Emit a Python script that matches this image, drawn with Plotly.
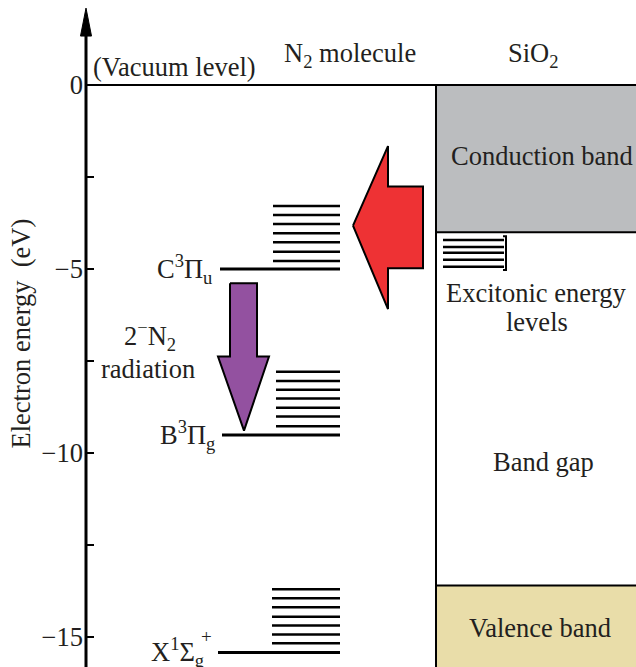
import plotly.graph_objects as go

# ---------------- data (energies in eV) ----------------
tick_vals = [0, -5, -10, -15]
tick_text = ["0", "−5", "−10", "−15"]
minor_tick_vals = [-2.5, -7.5, -12.5]

vacuum_level = 0.0
C_level = -5.0
C_vib = [-3.29, -3.53, -3.78, -4.03, -4.27, -4.53, -4.78]
B_level = -9.51
B_vib = [-7.79, -8.04, -8.28, -8.52, -8.77, -9.01, -9.27]
X_level = -15.42
X_vib = [-13.70, -13.95, -14.19, -14.45, -14.69, -14.93, -15.17]

cond_band = [0.0, -4.0]          # top, bottom of SiO2 conduction band
valence_top = -13.6              # top of SiO2 valence band
exciton_levels = [-4.21, -4.40, -4.56, -4.75, -4.94]
exciton_bracket = [-4.11, -5.03]

# arrows (energies)
red_arrow = dict(tip=-3.82, head_top=-1.66, head_bottom=-6.09, tail_top=-2.76, tail_bottom=-4.98)
purple_arrow = dict(top=-5.39, head_base=-7.38, tip=-9.39)

y_range = [-15.815, 2.31]

# ---------------- layout constants (x in page pixels) ----------------
AX_X = 86
FONT = "Liberation Serif, Times New Roman, DejaVu Serif, serif"
FS = 26.5
TXT = "#231F20"

fig = go.Figure()

def seg_trace(xs0, xs1, ys, width):
    x, y = [], []
    for v in ys:
        x += [xs0, xs1, None]
        y += [v, v, None]
    fig.add_trace(go.Scatter(x=x, y=y, mode="lines", line=dict(color="black", width=width),
                             hoverinfo="skip", showlegend=False, cliponaxis=False))

# SiO2 bands (filled)
fig.add_trace(go.Scatter(x=[436, 640, 640, 436, 436], y=[cond_band[0], cond_band[0], cond_band[1], cond_band[1], cond_band[0]],
                         fill="toself", fillcolor="#BBBDBF", line=dict(width=0), mode="lines",
                         hoverinfo="skip", showlegend=False))
fig.add_trace(go.Scatter(x=[436, 640, 640, 436, 436], y=[valence_top, valence_top, y_range[0], y_range[0], valence_top],
                         fill="toself", fillcolor="#E9DDA9", line=dict(width=0), mode="lines",
                         hoverinfo="skip", showlegend=False))
# band edges
seg_trace(436, 640, [cond_band[1], valence_top], 2)
# SiO2 left wall
fig.add_trace(go.Scatter(x=[436, 436], y=[vacuum_level, y_range[0]], mode="lines",
                         line=dict(color="black", width=2), hoverinfo="skip", showlegend=False))
# vacuum level
seg_trace(AX_X, 640, [vacuum_level], 2)

# N2 levels
seg_trace(220, 340, [C_level], 3)
seg_trace(273, 340, C_vib, 2.5)
seg_trace(222, 340, [B_level], 3)
seg_trace(276, 340, B_vib, 2.5)
seg_trace(218, 340, [X_level], 3)
seg_trace(272, 340, X_vib, 2.5)

# excitonic levels + bracket
seg_trace(443, 504, exciton_levels, 2.5)
fig.add_trace(go.Scatter(x=[503, 506, 506, 503], y=[exciton_bracket[0], exciton_bracket[0], exciton_bracket[1], exciton_bracket[1]],
                         mode="lines", line=dict(color="black", width=2), hoverinfo="skip", showlegend=False))

# red arrow (SiO2 -> N2)
ra = red_arrow
fig.add_trace(go.Scatter(
    x=[353, 388, 388, 423, 423, 388, 388, 353],
    y=[ra["tip"], ra["head_top"], ra["tail_top"], ra["tail_top"], ra["tail_bottom"], ra["tail_bottom"], ra["head_bottom"], ra["tip"]],
    fill="toself", fillcolor="#EE3234", mode="lines", line=dict(color="black", width=2),
    hoverinfo="skip", showlegend=False))

# purple arrow (radiation)
pa = purple_arrow
fig.add_trace(go.Scatter(
    x=[230, 257, 257, 269, 244, 218, 230, 230],
    y=[pa["top"], pa["top"], pa["head_base"], pa["head_base"], pa["tip"], pa["head_base"], pa["head_base"], pa["top"]],
    fill="toself", fillcolor="#9351A0", mode="lines", line=dict(color="black", width=2),
    hoverinfo="skip", showlegend=False))

# y axis line + arrowhead
fig.add_trace(go.Scatter(x=[AX_X, AX_X], y=[y_range[0], 1.4], mode="lines",
                         line=dict(color="black", width=3), hoverinfo="skip", showlegend=False))
fig.add_trace(go.Scatter(x=[80.5, 91.5, 86, 80.5], y=[1.33, 1.33, 2.09, 1.33], fill="toself",
                         fillcolor="black", mode="lines", line=dict(color="black", width=1),
                         hoverinfo="skip", showlegend=False))

def ann(text, x, y, xanchor="center", yshift=0, size=FS):
    fig.add_annotation(text=text, x=x, y=y, xref="x", yref="y", showarrow=False,
                       xanchor=xanchor, yanchor="middle", yshift=yshift,
                       font=dict(family=FONT, size=size, color=TXT))

def py(p):
    # page pixel row -> energy (for text placement)
    return (85 - p) / 36.8

ann("(Vacuum level)", 174, py(67))
ann("N<sub>2</sub> molecule", 350, py(55))
ann("SiO<sub>2</sub>", 533, py(55))
ann("Conduction band", 542, py(156))
ann("Excitonic energy", 536, py(293))
ann("levels", 537, py(322))
ann("Band gap", 543, py(462))
ann("Valence band", 540, py(628))
ann("C<sup>3</sup>Π<sub>u</sub>", 214, C_level, xanchor="right")
ann("B<sup>3</sup>Π<sub>g</sub>", 217, B_level, xanchor="right")
ann("X<sup>1</sup>Σ<sub>g</sub>", 206, X_level, xanchor="right")
ann("+", 199, py(636), xanchor="left", size=19)
ann("2<sup>−</sup>N<sub>2</sub>", 150, py(336))
ann("radiation", 148, py(369))

fig.add_annotation(text="Electron energy\u00a0\u00a0(eV)", x=20, y=(y_range[0] + y_range[1]) / 2,
                   xref="x", yref="y", showarrow=False, textangle=-90,
                   font=dict(family=FONT, size=FS, color=TXT), xanchor="center", yanchor="middle")

fig.update_layout(
    width=636, height=667, margin=dict(l=0, r=0, t=0, b=0),
    paper_bgcolor="white", plot_bgcolor="white",
    font=dict(family=FONT, size=FS, color=TXT),
    xaxis=dict(range=[0, 636], visible=False, fixedrange=True),
    yaxis=dict(range=y_range, anchor="free", position=AX_X / 636, side="left",
               showline=False, showgrid=False, zeroline=False,
               ticks="inside", ticklen=7, tickwidth=2, tickcolor="black",
               tickvals=tick_vals, ticktext=tick_text,
               tickfont=dict(family=FONT, size=FS, color=TXT),
               minor=dict(tickvals=minor_tick_vals, ticks="inside", ticklen=7, tickwidth=2, tickcolor="black"),
               ticklabelstandoff=3, fixedrange=True),
    showlegend=False,
)

fig.write_html("out.html")
